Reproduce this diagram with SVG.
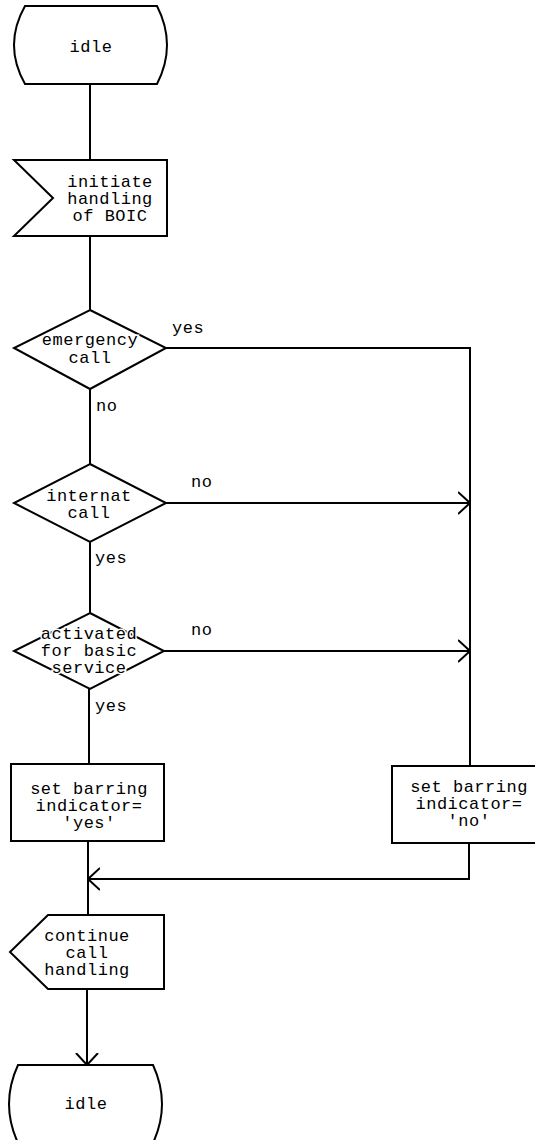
<svg xmlns="http://www.w3.org/2000/svg" width="535" height="1140" viewBox="0 0 535 1140">
<style>
.s{fill:#fff;stroke:#000;stroke-width:2;stroke-linejoin:miter}
.c{fill:none;stroke:#000;stroke-width:2}
.t{font-family:"Liberation Mono","DejaVu Sans Mono",monospace;font-size:17px;letter-spacing:0.5px;fill:#000;text-anchor:middle}
.h{stroke:#fff;stroke-width:3;paint-order:stroke}
.l{font-family:"Liberation Mono","DejaVu Sans Mono",monospace;font-size:17px;letter-spacing:0.5px;fill:#000}
</style>
<defs>
<marker id="a" viewBox="0 0 13 24" refX="12" refY="12" markerWidth="13" markerHeight="24" markerUnits="userSpaceOnUse" orient="auto">
<path d="M0,1 L12,12 L0,23" fill="none" stroke="#000" stroke-width="2"/>
</marker>
</defs>
<g id="connectors">
<path class="c" d="M90,84 V160"/>
<path class="c" d="M90,236 V310"/>
<path class="c" d="M90,389 V464"/>
<path class="c" d="M90,542 V613"/>
<path class="c" d="M89,689 V764"/>
<path class="c" d="M166,348 H470 V766"/>
<path class="c" d="M166,503 H470" marker-end="url(#a)"/>
<path class="c" d="M164,651 H470" marker-end="url(#a)"/>
<path class="c" d="M469,843 V879 H88" marker-end="url(#a)"/>
<path class="c" d="M88,841 V915"/>
<path class="c" d="M87,989 V1065" marker-end="url(#a)"/>
<text class="l" x="172" y="333">yes</text>
<text class="l" x="96" y="411">no</text>
<text class="l" x="191" y="487">no</text>
<text class="l" x="95" y="563">yes</text>
<text class="l" x="191" y="635">no</text>
<text class="l" x="95" y="711">yes</text>
</g>
<g id="idle1">
<path class="s" d="M25,6 L157,6 Q177,45 157,84 L25,84 Q3,45 25,6 Z"/>
<text class="t" x="91" y="52">idle</text>
</g>
<g id="initiate">
<path class="s" d="M14,160 L167,160 L167,236 L14,236 L53,198 Z"/>
<text class="t" x="110" y="187">initiate</text>
<text class="t" x="110" y="204">handling</text>
<text class="t" x="110" y="221">of BOIC</text>
</g>
<g id="emergency">
<path class="s" d="M90,310 L166,348 L90,389 L14,348 Z"/>
<text class="t h" x="90" y="345">emergency</text>
<text class="t h" x="90" y="363">call</text>
</g>
<g id="internat">
<path class="s" d="M90,464 L166,503 L90,542 L14,503 Z"/>
<text class="t h" x="89" y="501">internat</text>
<text class="t h" x="89" y="518">call</text>
</g>
<g id="activated">
<path class="s" d="M90,613 L164,651 L90,689 L14,651 Z"/>
<text class="t h" x="89" y="639">activated</text>
<text class="t h" x="89" y="656">for basic</text>
<text class="t h" x="89" y="673">service</text>
</g>
<g id="setyes">
<rect class="s" x="11" y="764" width="153" height="77"/>
<text class="t" x="89" y="794">set barring</text>
<text class="t" x="89" y="811">indicator=</text>
<text class="t" x="89" y="828">'yes'</text>
</g>
<g id="setno">
<rect class="s" x="392" y="766" width="150" height="77"/>
<text class="t" x="469" y="792">set barring</text>
<text class="t" x="469" y="809">indicator=</text>
<text class="t" x="469" y="826">'no'</text>
</g>
<g id="continue">
<path class="s" d="M48,915 L164,915 L164,989 L48,989 L10,952 Z"/>
<text class="t" x="87" y="941">continue</text>
<text class="t" x="87" y="958">call</text>
<text class="t" x="87" y="975">handling</text>
</g>
<g id="idle2">
<path class="s" d="M18,1065 L153,1065 Q171,1104 153,1143 L18,1143 Q0,1104 18,1065 Z"/>
<text class="t" x="86" y="1109">idle</text>
</g>
</svg>
